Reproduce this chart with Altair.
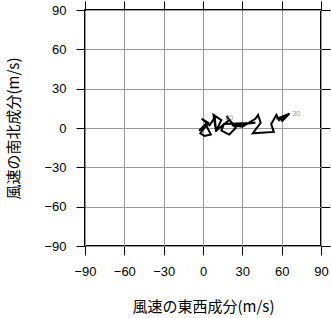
import altair as alt
import pandas as pd

# hodograph path (u: east-west, v: north-south) in m/s
u_vals = [0, -3, 2, 6, 1, -2, 4, -1, 5, 9, 10, 8, 14, 10, 20, 18, 25, 20, 14, 16,
          40, 22, 30, 40, 42, 44, 38, 54, 52, 56, 58, 62, 60, 66, 56]
v_vals = [0, -2, 3, -5, -6, -4, 4, 7, 2, 8, -3, 10, 6, -2, 6, 9, 0, -5, -2, 3,
          4, 2, 1, 7, 10, 4, -4, -3, 3, 10, 6, 9, 5, 11, 7]

label_text = ["20", "30"]
label_u = [17, 68]
label_v = [8, 11]

ticks = [-90, -60, -30, 0, 30, 60, 90]

df = pd.DataFrame({"u": u_vals, "v": v_vals, "t": list(range(len(u_vals)))})
lab = pd.DataFrame({"u": label_u, "v": label_v, "s": label_text})

xs = alt.Scale(domain=[-90, 90], nice=False, zero=False)
ys = alt.Scale(domain=[-90, 90], nice=False, zero=False)

LF = "Liberation Sans"
TF = "Noto Sans CJK JP"

main_x = alt.Axis(orient="bottom", values=ticks, grid=True, gridColor="#999999", gridWidth=1,
                  tickSize=9, tickColor="black", labelPadding=10, labelFont=LF, labelFontSize=13,
                  labelColor="black", domain=False, title="風速の東西成分(m/s)", titleFont=TF,
                  titleFontSize=15, titleFontWeight="normal", titleColor="black", titlePadding=21,
                  labelFlush=False)
main_y = alt.Axis(orient="left", values=ticks, grid=True, gridColor="#999999", gridWidth=1,
                  tickSize=9, tickColor="black", labelPadding=10, labelFont=LF, labelFontSize=13,
                  labelColor="black", domain=False, title="風速の南北成分(m/s)", titleFont=TF,
                  titleFontSize=15, titleFontWeight="normal", titleColor="black", titlePadding=22,
                  labelFlush=False)

line = alt.Chart(df).mark_line(color="black", strokeWidth=2, clip=True).encode(
    x=alt.X("u:Q", scale=xs, axis=main_x),
    y=alt.Y("v:Q", scale=ys, axis=main_y),
    order="t:Q",
)

sec = alt.Chart(df).mark_point(opacity=0).encode(
    x=alt.X("u:Q", scale=xs, axis=alt.Axis(orient="top", values=ticks, grid=False, labels=False,
                                            tickSize=9, tickColor="black", domain=False, title=None)),
    y=alt.Y("v:Q", scale=ys, axis=alt.Axis(orient="right", values=ticks, grid=False, labels=False,
                                            tickSize=9, tickColor="black", domain=False, title=None)),
)

texts = alt.Chart(lab).mark_text(fontSize=7, color="#999999", font=LF, align="left").encode(
    x=alt.X("u:Q", scale=xs, axis=None),
    y=alt.Y("v:Q", scale=ys, axis=None),
    text="s:N",
)

chart = alt.layer(line, texts, sec).resolve_axis(x="independent", y="independent").properties(
    width=236, height=236,
    background="white",
    autosize=alt.AutoSizeParams(type="none"),
    padding={"left": 85, "top": 10, "right": 10, "bottom": 72},
).configure_view(stroke="black", strokeWidth=2)

chart.save("out.html", embed_options={"renderer": "svg", "actions": False})
